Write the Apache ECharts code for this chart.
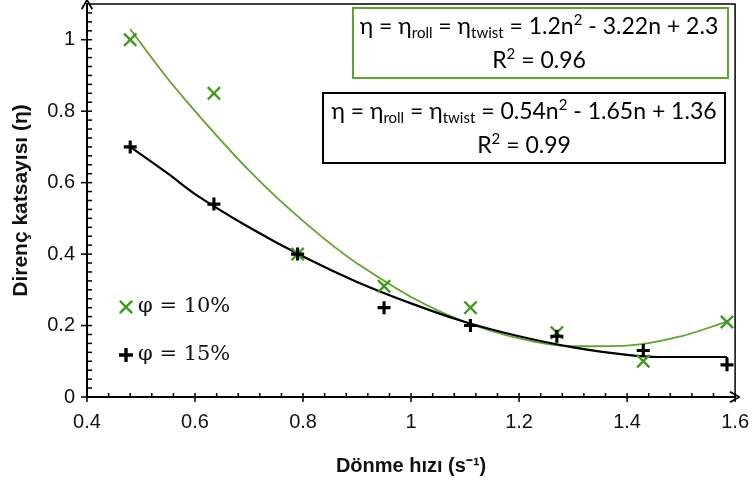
<!DOCTYPE html>
<html>
<head>
<meta charset="utf-8">
<script src="https://cdn.jsdelivr.net/npm/echarts@6/dist/echarts.min.js"></script>
<style>
  html, body { margin: 0; padding: 0; background: #fff; }
  #chart { width: 752px; height: 481px; }
</style>
</head>
<body>
<div id="chart"></div>
<script>
// Rotation speed (s^-1) at which each test was run
const speeds = [0.48, 0.635, 0.79, 0.95, 1.11, 1.27, 1.43, 1.585];
// Resistance coefficient, moisture 10 %
const eta10 = [1.0, 0.85, 0.40, 0.31, 0.25, 0.18, 0.10, 0.21];
// Resistance coefficient, moisture 15 %
const eta15 = [0.70, 0.54, 0.40, 0.25, 0.20, 0.17, 0.13, 0.09];

// Trend curves (points along the fitted lines)
const trend10 = [[0.48,1.03],[0.55,0.89],[0.6,0.80],[0.65,0.715],[0.7,0.634],[0.75,0.56],[0.8,0.493],[0.85,0.43],[0.9,0.374],[1.0,0.28],[1.1,0.21],[1.2,0.164],[1.3,0.142],[1.4,0.144],[1.5,0.17],[1.585,0.212]];
const trend15 = [[0.48,0.70],[0.55,0.625],[0.6,0.568],[0.7,0.475],[0.8,0.393],[0.9,0.322],[1.0,0.262],[1.1,0.21],[1.2,0.17],[1.3,0.139],[1.4,0.118],[1.46,0.112],[1.52,0.112],[1.585,0.112]];
const trend15Tail = [[1.585,0.112],[1.585,0.09]];

// Axis ticks
const xRange = [0.4, 1.6];
const yRange = [0, 1.1];
const xMajorTicks = [0.4, 0.6, 0.8, 1.0, 1.2, 1.4, 1.6];
const yMajorTicks = [0, 0.2, 0.4, 0.6, 0.8, 1.0];
const xMinorPerMajor = 5;
const yMinorPerMajor = 8;
const yLabelStep = 0.2;
const seriesNames = ['φ = 10%', 'φ = 15%'];
const fit10 = ['1.2n{p|2} - 3.22n + 2.3', 'R{p|2} = 0.96'];
const fit15 = ['0.54n{p|2} - 1.65n + 1.36', 'R{p|2} = 0.99'];

const GREEN = '#3f9a1c';
const GREEN_LINE = '#5da52c';
const CROSS = 'path://M0,1.2L1.2,0L5,3.8L8.8,0L10,1.2L6.2,5L10,8.8L8.8,10L5,6.2L1.2,10L0,8.8L3.8,5Z';
const PLUS = 'path://M3.8,0H6.2V3.8H10V6.2H6.2V10H3.8V6.2H0V3.8H3.8Z';
const CHEVRON = 'path://M5,0L10,8.5L8.8,9.5L5,2.6L1.2,9.5L0,8.5Z';

const pair = (xs, ys) => xs.map((x, i) => [x, ys[i]]);

const chart = echarts.init(document.getElementById('chart'), null, { renderer: 'canvas' });

const labelFont = { fontFamily: 'Liberation Sans', fontSize: 20, color: '#111' };
const rich = {
  a: { fontFamily: 'Lato', fontSize: 23, lineHeight: 28, color: '#111', verticalAlign: 'middle' },
  s: { fontFamily: 'Lato', fontSize: 15, color: '#111', verticalAlign: 'bottom' },
  p: { fontFamily: 'Lato', fontSize: 15, color: '#111', verticalAlign: 'top' }
};
function eqLine(rhs) {
  return '{a|η = η}{s|roll}{a| = η}{s|twist}{a| = }' + wrapRhs(rhs);
}
// Split a formula on its superscript tokens so plain runs use the main style
function wrapRhs(rhs) {
  return rhs.split(/(\{p\|2\})/).map(t => t === '{p|2}' ? t : (t ? '{a|' + t + '}' : '')).join('');
}
// Only label whole steps of 0.2 (the axis also stops at 1.1)
function yLabel(v) {
  const k = v / yLabelStep;
  return Math.abs(k - Math.round(k)) < 1e-6 ? String(+v.toFixed(2)) : '';
}

chart.setOption({
  animation: false,
  backgroundColor: '#fff',
  grid: { left: 87, right: 16, top: 4, bottom: 84, show: true, borderColor: '#000', borderWidth: 1.5, backgroundColor: 'transparent' },
  legend: {
    data: seriesNames,
    orient: 'vertical',
    left: 114,
    top: 290,
    itemWidth: 14,
    itemHeight: 14,
    itemGap: 24,
    textStyle: { fontFamily: 'DejaVu Serif', fontSize: 21, color: '#111', lineHeight: 24 }
  },
  xAxis: {
    type: 'value', min: xRange[0], max: xRange[1], interval: 0.2,
    name: 'Dönme hızı (s⁻¹)', nameLocation: 'middle', nameGap: 59,
    nameTextStyle: { fontFamily: 'Liberation Sans', fontWeight: 'bold', fontSize: 20, color: '#111' },
    axisLine: { show: true, lineStyle: { color: '#000', width: 2 }, symbol: ['none', CHEVRON], symbolSize: [12, 12] },
    axisTick: { show: false },
    axisLabel: Object.assign({ margin: 15 }, labelFont),
    splitLine: { show: false }
  },
  yAxis: {
    type: 'value', min: yRange[0], max: yRange[1], interval: yLabelStep,
    name: 'Direnç katsayısı (η)', nameLocation: 'middle', nameGap: 55, nameRotate: 90,
    nameTextStyle: { fontFamily: 'Liberation Sans', fontWeight: 'bold', fontSize: 21, color: '#111' },
    axisLine: { show: true, lineStyle: { color: '#000', width: 2 }, symbol: ['none', CHEVRON], symbolSize: [12, 12] },
    axisTick: { show: false },
    axisLabel: Object.assign({ margin: 12, showMaxLabel: false, formatter: yLabel }, labelFont),
    splitLine: { show: false }
  },
  series: [
    {
      name: 'trend10', type: 'line', data: trend10, smooth: 0.35, showSymbol: false, silent: true,
      lineStyle: { color: GREEN_LINE, width: 1.8 }, z: 2
    },
    {
      name: 'trend15', type: 'line', data: trend15, smooth: 0.35, showSymbol: false, silent: true,
      lineStyle: { color: '#000', width: 2.2 }, z: 3
    },
    {
      name: 'trend15tail', type: 'line', data: trend15Tail, showSymbol: false, silent: true,
      lineStyle: { color: '#000', width: 2.2 }, z: 3
    },
    {
      name: seriesNames[0], type: 'scatter', data: pair(speeds, eta10),
      symbol: CROSS, symbolSize: 14, itemStyle: { color: GREEN, opacity: 1 }, z: 5
    },
    {
      name: seriesNames[1], type: 'scatter', data: pair(speeds, eta15),
      symbol: PLUS, symbolSize: 13, itemStyle: { color: '#000', opacity: 1 }, z: 6
    }
  ]
});

// Tick marks, placed through the chart's own scales once the grid is laid out
const toPx = (x, y) => chart.convertToPixel({ gridIndex: 0 }, [x, y]);
const tickLine = (x1, y1, x2, y2) => ({
  type: 'line', silent: true,
  shape: { x1: x1, y1: y1, x2: x2, y2: y2 },
  style: { stroke: '#000', lineWidth: 1.5 }
});
const ticks = [];
xMajorTicks.forEach((v, i) => {
  const p = toPx(v, yRange[0]);
  ticks.push(tickLine(p[0], p[1] - 4, p[0], p[1] + 5));
  const next = xMajorTicks[i + 1];
  if (next === undefined) return;
  for (let k = 1; k < xMinorPerMajor; k++) {
    const q = toPx(v + (next - v) * k / xMinorPerMajor, yRange[0]);
    ticks.push(tickLine(q[0], q[1] - 4, q[0], q[1]));
  }
});
yMajorTicks.forEach((v, i) => {
  const p = toPx(xRange[0], v);
  ticks.push(tickLine(p[0] - 6, p[1], p[0] + 5, p[1]));
  const next = i + 1 < yMajorTicks.length ? yMajorTicks[i + 1] : v + yLabelStep;
  for (let k = 1; k < yMinorPerMajor; k++) {
    const m = v + (next - v) * k / yMinorPerMajor;
    if (m >= yRange[1] - 1e-9) break;
    const q = toPx(xRange[0], m);
    ticks.push(tickLine(q[0], q[1], q[0] + 5, q[1]));
  }
});

chart.setOption({
  graphic: [
    { type: 'group', z: 15, silent: true, children: ticks },
    {
      type: 'group', z: 20,
      children: [
        { type: 'rect', shape: { x: 353, y: 8, width: 375, height: 70 }, style: { fill: '#fff', stroke: GREEN_LINE, lineWidth: 2 } },
        { type: 'text', x: 539, y: 27, style: { text: eqLine(fit10[0]), rich: rich, align: 'center', verticalAlign: 'middle' } },
        { type: 'text', x: 539, y: 61, style: { text: wrapRhs(fit10[1]), rich: rich, align: 'center', verticalAlign: 'middle' } }
      ]
    },
    {
      type: 'group', z: 20,
      children: [
        { type: 'rect', shape: { x: 323, y: 93, width: 402, height: 70 }, style: { fill: '#fff', stroke: '#000', lineWidth: 2 } },
        { type: 'text', x: 524, y: 112, style: { text: eqLine(fit15[0]), rich: rich, align: 'center', verticalAlign: 'middle' } },
        { type: 'text', x: 524, y: 146, style: { text: wrapRhs(fit15[1]), rich: rich, align: 'center', verticalAlign: 'middle' } }
      ]
    }
  ]
});
</script>
</body>
</html>
